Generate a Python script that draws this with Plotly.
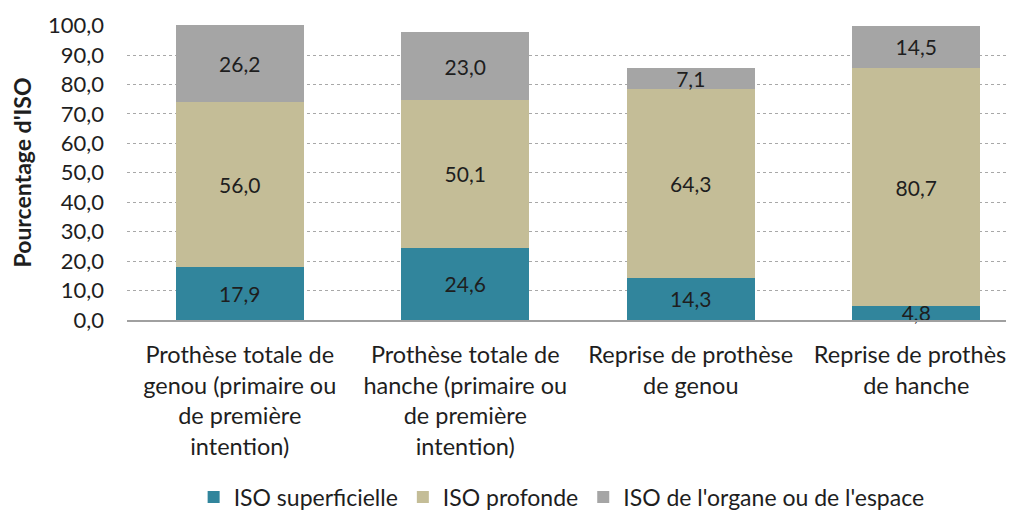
import plotly.graph_objects as go

categories = [
    "Prothèse totale de<br>genou (primaire ou<br>de première<br>intention)",
    "Prothèse totale de<br>hanche (primaire ou<br>de première<br>intention)",
    "Reprise de prothèse<br>de genou",
    "Reprise de prothèse<br>de hanche",
]
superficielle = [17.9, 24.6, 14.3, 4.8]
profonde = [56.0, 50.1, 64.3, 80.7]
organe = [26.2, 23.0, 7.1, 14.5]

series = [
    ("ISO superficielle", superficielle, "#31859C"),
    ("ISO profonde", profonde, "#C4BD97"),
    ("ISO de l'organe ou de l'espace", organe, "#A5A5A5"),
]

FONT = "Lato"
TXT = "#1E1E1E"

fig = go.Figure()
for name, vals, col in series:
    fig.add_trace(go.Bar(
        x=list(range(len(categories))), y=vals, name=name,
        marker=dict(color=col, line=dict(width=0)),
        texttemplate="%{y:.1f}", textposition="inside", insidetextanchor="middle",
        textangle=0, constraintext="none", cliponaxis=False,
        textfont=dict(family=FONT, size=21, color=TXT),
    ))

# page body has an 8px margin; compensate
OFF = 8
band = 225.5
left = 127 - OFF
W, H = 1014 - OFF, 510 - OFF
top = 25 - OFF
bottom = H - (320 - OFF)
xmax = -0.5 + (W - left) / band

fig.update_layout(
    width=W, height=H, barmode="stack", bargap=0.432,
    separators=", ",
    paper_bgcolor="white", plot_bgcolor="white",
    margin=dict(l=left, r=0, t=top, b=bottom, autoexpand=False),
    font=dict(family=FONT, color=TXT),
    legend=dict(orientation="h", x=0.49, xanchor="center", y=-0.6, yanchor="middle",
                font=dict(family=FONT, size=23, color=TXT), traceorder="normal"),
    xaxis=dict(
        tickmode="array", tickvals=list(range(len(categories))), ticktext=categories,
        range=[-0.5, xmax], showgrid=False, showline=True, linecolor="#A0A0A0", linewidth=1.5,
        ticks="", tickfont=dict(family=FONT, size=23.5, color=TXT), ticklabelstandoff=13,
        automargin=False, ticklabeloverflow="allow",
    ),
    yaxis=dict(
        range=[0, 100.2], tickvals=[0, 10, 20, 30, 40, 50, 60, 70, 80, 90, 100],
        tickformat=".1f", showgrid=True,
        gridcolor="#A8A8A8", griddash="dot", gridwidth=1, zeroline=False,
        ticks="", tickfont=dict(family=FONT, size=22, color=TXT), ticklabelstandoff=22,
        automargin=False,
        title=dict(text="<b>Pourcentage d'ISO</b>", font=dict(family=FONT, size=23, color=TXT), standoff=10),
    ),
)

fig.write_html("out.html")
